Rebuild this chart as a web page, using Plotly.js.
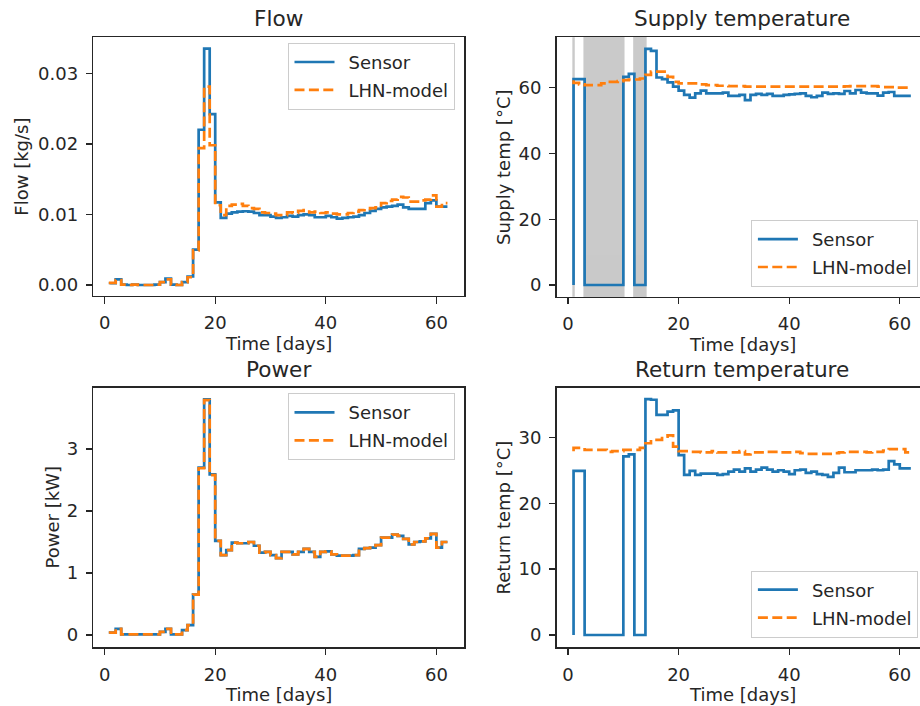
<!DOCTYPE html>
<html><head><meta charset="utf-8">
<script src="https://cdn.plot.ly/plotly-3.0.1.min.js"></script>
<style>html,body{margin:0;padding:0;overflow:hidden;background:#fff;width:920px;height:706px}</style>
</head><body><div id="chart" style="width:930px;height:706px"></div>
<script>
const days = [1,2,3,4,5,6,7,8,9,10,11,12,13,14,15,16,17,18,19,20,21,22,23,24,25,26,27,28,29,30,31,32,33,34,35,36,37,38,39,40,41,42,43,44,45,46,47,48,49,50,51,52,53,54,55,56,57,58,59,60,61,62];

const flowSensor = [0.0001,0.00025,0.0008,0.00005,0,0.00005,0,0,0,0.00005,0.0004,0.0009,0.00005,0,0.0004,0.0012,0.005,0.022,0.0335,0.0242,0.0117,0.0095,0.0101,0.0103,0.0104,0.01045,0.0104,0.0102,0.0099,0.0099,0.0097,0.0095,0.0096,0.0098,0.0097,0.0099,0.0100,0.0099,0.0096,0.0096,0.0098,0.0096,0.0094,0.0095,0.0096,0.0097,0.0099,0.0102,0.0105,0.0108,0.0110,0.0111,0.0112,0.0114,0.0110,0.0108,0.0108,0.0108,0.0116,0.0120,0.0111,0.0111];
const flowModel = [0.0001,0.0003,0.0007,0.00005,0,0.00005,0,0,0,0.00005,0.0004,0.0008,0.00005,0,0.0004,0.0011,0.0049,0.0194,0.0281,0.0198,0.0113,0.0099,0.0112,0.0114,0.0115,0.0112,0.0109,0.0108,0.0103,0.0102,0.0101,0.0099,0.0099,0.0103,0.0102,0.0105,0.0106,0.0103,0.0104,0.0102,0.0103,0.0101,0.0100,0.0100,0.0102,0.0104,0.0106,0.0108,0.0109,0.0110,0.0116,0.0119,0.0121,0.0125,0.0124,0.0118,0.0118,0.0120,0.0121,0.0127,0.0111,0.0116];

const supplySensor = [0,62.6,62.6,0,0,0,0,0,0,0,63.3,64.2,0,0,71.8,71.2,63.1,62.6,61.6,60.3,59.1,57.8,57.0,58.3,59.1,58.3,58.3,58.3,58.5,57.5,57.5,57.8,56.2,57.8,58.1,57.8,58.1,57.5,57.5,57.8,58.0,58.1,58.3,57.5,57.1,57.5,58.5,58.1,58.3,58.1,59.0,58.3,59.3,58.5,58.3,58.3,57.6,58.5,58.7,57.5,57.5,57.5];
const supplyModel = [62.3,61.5,61.0,60.8,60.8,60.8,61.3,61.8,61.8,62.0,62.3,62.5,62.5,62.8,63.9,64.9,64.9,64.9,63.3,61.8,61.3,61.3,61.3,61.3,61.0,60.8,60.8,60.6,60.6,60.5,60.5,60.5,60.3,60.3,60.3,60.3,60.3,60.3,60.3,60.3,60.3,60.3,60.3,60.3,60.3,60.3,60.3,60.3,60.3,60.3,60.4,60.5,60.5,60.5,60.5,60.5,60.3,60.2,60.2,60.0,60.0,60.0];

const powerSensor = [0.02,0.04,0.1,0.01,0.01,0.01,0.01,0.01,0.01,0.01,0.05,0.1,0.01,0.01,0.08,0.16,0.65,2.7,3.8,2.59,1.52,1.29,1.37,1.49,1.48,1.48,1.5,1.44,1.33,1.34,1.29,1.24,1.34,1.34,1.3,1.34,1.39,1.34,1.26,1.34,1.35,1.3,1.28,1.28,1.28,1.29,1.39,1.4,1.41,1.45,1.57,1.57,1.62,1.6,1.55,1.46,1.5,1.51,1.56,1.63,1.41,1.5];
const powerModel = [0.02,0.04,0.1,0.01,0.01,0.01,0.01,0.01,0.01,0.01,0.05,0.1,0.01,0.01,0.08,0.16,0.65,2.69,3.79,2.58,1.52,1.29,1.37,1.49,1.48,1.48,1.5,1.44,1.33,1.34,1.29,1.24,1.34,1.34,1.3,1.34,1.39,1.34,1.26,1.34,1.35,1.3,1.28,1.28,1.28,1.29,1.39,1.4,1.41,1.45,1.57,1.57,1.62,1.6,1.55,1.46,1.5,1.51,1.56,1.63,1.41,1.5];

const returnSensor = [0,24.9,24.9,0,0,0,0,0,0,0,27.1,27.4,0,0,35.8,35.7,33.4,33.4,33.9,34.1,27.3,24.3,24.9,24.3,24.5,24.5,24.5,24.3,24.4,24.8,25.1,24.8,25.3,24.8,25.1,25.4,25.1,24.8,25.0,24.8,24.4,25.0,25.1,24.6,24.8,24.4,24.3,24.0,24.6,25.4,24.7,24.7,25.0,25.0,25.0,25.1,25.0,25.1,26.4,25.9,25.3,25.3];
const returnModel = [27.9,28.4,28.4,28.1,28.1,28.1,28.1,27.8,27.9,27.9,28.1,28.1,28.1,28.4,29.1,29.6,29.6,30.1,30.3,28.6,27.9,27.9,27.8,27.8,27.7,27.7,27.9,27.7,27.7,27.7,27.7,27.9,27.4,27.7,27.7,27.7,27.8,27.8,27.7,27.7,27.7,27.8,27.6,27.5,27.5,27.5,27.5,27.5,27.6,27.7,27.8,27.8,27.8,27.8,27.7,27.8,27.8,28.0,28.2,28.2,28.2,27.7];

const seriesNames = ['Sensor', 'LHN-model'];
const panelTitles = ['Flow', 'Supply temperature', 'Power', 'Return temperature'];
const yTitles = ['Flow [kg/s]', 'Supply temp [°C]', 'Power [kW]', 'Return temp [°C]'];
const xTitle = 'Time [days]';

// ---- layout geometry (pixels) ----
const W = 930, H = 706;
const fx = p => p / W, fy = p => 1 - p / H;
const C0 = '#1f77b4', C1 = '#ff7f0e', INK = '#262626';
const FONT = 'DejaVu Sans, Liberation Sans, sans-serif';

const panels = [
  {s: flowSensor, m: flowModel, l: 93.3, r: 464.3, t: 37.3, b: 296.0, yr: [-0.00156, 0.0351], dt: 0.01, fmt: '.2f', leg: 'top', ytx: 22},
  {s: supplySensor, m: supplyModel, l: 556.7, r: 927.7, t: 37.3, b: 296.7, yr: [-3.558, 75.33], dt: 20, fmt: '', leg: 'bottom', ytx: 503},
  {s: powerSensor, m: powerModel, l: 93.3, r: 464.3, t: 387.7, b: 647.3, yr: [-0.198, 3.989], dt: 1, fmt: '', leg: 'top', ytx: 52},
  {s: returnSensor, m: returnModel, l: 556.7, r: 927.7, t: 387.7, b: 647.3, yr: [-1.866, 37.53], dt: 10, fmt: '', leg: 'bottom', ytx: 503}
];

const data = [];
const layout = {
  width: W, height: H,
  margin: {l: 0, r: 0, t: 0, b: 0, pad: 0},
  paper_bgcolor: '#fff', plot_bgcolor: '#fff',
  font: {family: FONT, size: 18, color: INK},
  showlegend: true,
  annotations: [], shapes: []
};

panels.forEach((p, k) => {
  const n = k === 0 ? '' : String(k + 1);
  const legName = 'legend' + n;
  data.push({x: days, y: p.s, type: 'scatter', mode: 'lines', name: seriesNames[0],
    line: {color: C0, width: 2.7, shape: 'vh'}, xaxis: 'x' + n, yaxis: 'y' + n, legend: legName, legendgroup: 'a' + k});
  data.push({x: days, y: p.m, type: 'scatter', mode: 'lines', name: seriesNames[1],
    line: {color: C1, width: 2.7, shape: 'vh', dash: '10px,4.4px'}, xaxis: 'x' + n, yaxis: 'y' + n, legend: legName, legendgroup: 'b' + k});

  const axCommon = {showgrid: false, zeroline: false, showline: true, mirror: true, linecolor: INK, linewidth: 1.3,
    ticks: 'outside', ticklen: 6.3, tickwidth: 1.3, tickcolor: INK, tickfont: {size: 18, color: INK, family: FONT}, automargin: false};
  layout['xaxis' + n] = Object.assign({}, axCommon, {domain: [fx(p.l), fx(p.r)], range: [-2.05, 65.05], tick0: 0, dtick: 20,
    anchor: 'y' + n, ticklabelstandoff: 4});
  layout['yaxis' + n] = Object.assign({}, axCommon, {domain: [fy(p.b), fy(p.t)], range: p.yr, tick0: 0, dtick: p.dt,
    tickformat: p.fmt, anchor: 'x' + n, ticklabelstandoff: 4});

  layout[legName] = {
    x: fx(p.r - 9.8), xanchor: 'right',
    y: p.leg === 'top' ? fy(p.t + 5.5) : fy(p.b - 9.8), yanchor: p.leg === 'top' ? 'top' : 'bottom',
    xref: 'paper', yref: 'paper',
    bgcolor: 'rgba(255,255,255,0.8)', bordercolor: '#cccccc', borderwidth: 1,
    font: {size: 18, color: INK, family: FONT}, traceorder: 'grouped', tracegroupgap: 1.5, itemwidth: 50
  };

  const cx = (p.l + p.r) / 2;
  layout.annotations.push({text: panelTitles[k], xref: 'paper', yref: 'paper', x: fx(cx), y: fy(p.t - 18.5),
    xanchor: 'center', yanchor: 'middle', showarrow: false, font: {size: 21.6, color: INK, family: FONT}});
  layout.annotations.push({text: xTitle, xref: 'paper', yref: 'paper', x: fx(cx), y: fy(p.b + 47.5),
    xanchor: 'center', yanchor: 'middle', showarrow: false, font: {size: 18, color: INK, family: FONT}});
  layout.annotations.push({text: yTitles[k], xref: 'paper', yref: 'paper', x: fx(p.ytx), y: fy((p.t + p.b) / 2),
    xanchor: 'center', yanchor: 'middle', textangle: -90, showarrow: false, font: {size: 18, color: INK, family: FONT}});
});

// grey spans where the supply sensor reads zero (derived from the data)
let i = 0;
while (i < days.length) {
  if (supplySensor[i] === 0) {
    let j = i;
    while (j + 1 < days.length && supplySensor[j + 1] === 0) j++;
    const x0 = i > 0 ? days[i - 1] : days[i];
    layout.shapes.push({type: 'rect', xref: 'x2', yref: 'y2 domain', x0: x0, x1: days[j], y0: 0, y1: 1,
      fillcolor: '#808080', opacity: 0.42, line: {color: '#808080', width: 2.4}, layer: 'below'});
    i = j + 1;
  } else i++;
}

Plotly.newPlot('chart', data, layout, {displayModeBar: false, staticPlot: true}).then(() => {
  // lengthen legend line samples to match the longer handles of the reference
  document.querySelectorAll('.legendlines path').forEach(el => el.setAttribute('d', 'M6,0h40'));
});
</script>
</body></html>
